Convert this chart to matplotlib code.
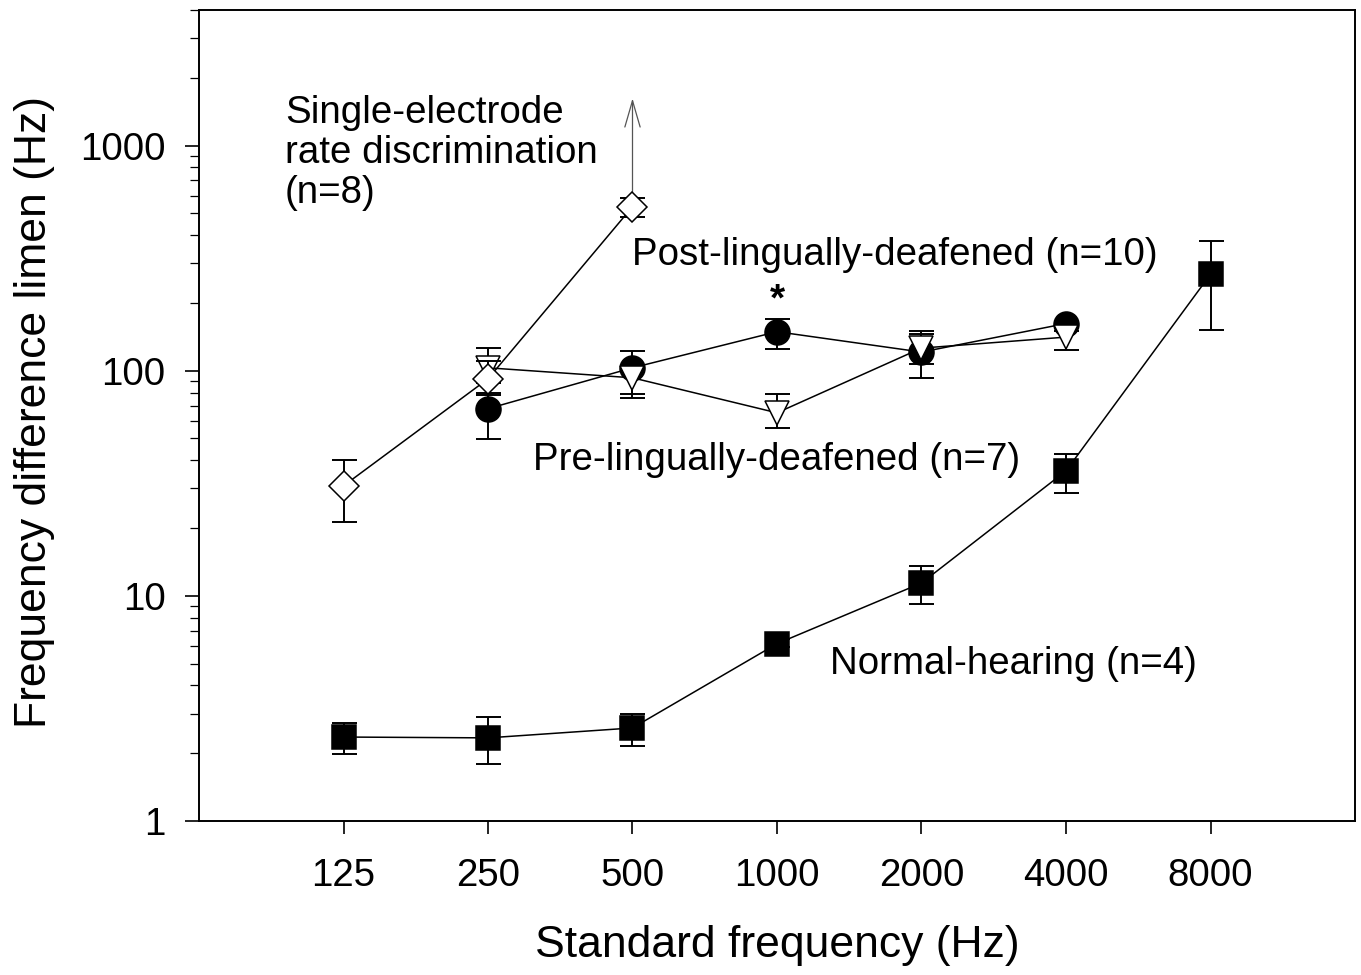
import matplotlib
matplotlib.use("Agg")
import matplotlib.pyplot as plt
import matplotlib.ticker as mticker
import numpy as np

plt.rcParams['font.family'] = ['Liberation Sans', 'DejaVu Sans']

# ---------------- data ----------------
freqs = [125, 250, 500, 1000, 2000, 4000, 8000]
tick_labels = ["125", "250", "500", "1000", "2000", "4000", "8000"]

# Normal-hearing (filled squares)
nh_freq = [125, 250, 500, 1000, 2000, 4000, 8000]
nh_mean = [2.36, 2.34, 2.59, 6.13, 11.4, 35.9, 268]
nh_low = [1.98, 1.79, 2.15, 5.9, 9.2, 28.7, 152]
nh_high = [2.73, 2.90, 2.99, 6.4, 13.6, 42.7, 377]

# Post-lingually-deafened (filled circles)
post_freq = [250, 500, 1000, 2000, 4000]
post_mean = [67.8, 103, 149, 121, 162]
post_low = [49.9, 79, 125, 93, 158]
post_high = [80, 122, 169, 145, 166]

# Pre-lingually-deafened (open down-triangles)
pre_freq = [250, 500, 1000, 2000, 4000]
pre_mean = [103, 93, 65, 126, 141]
pre_low = [88, 76, 55.5, 107, 123]
pre_high = [126, 100, 79, 150, 150]

# Single-electrode rate discrimination (open diamonds)
se_freq = [125, 250, 500]
se_mean = [30.8, 92, 535]
se_low = [21.3, 78, 480]
se_high = [40.2, 110, 587]
se_arrow_top = 1620

star_freq = 1000
star_value = 205

# ---------------- figure ----------------
W, H = 1361, 975
fig = plt.figure(figsize=(W / 100, H / 100), dpi=100)
ax = fig.add_axes([199 / W, (H - 821) / H, 1156 / W, 811 / H])

ax.set_xscale('log', base=2)
ax.set_yscale('log')
ax.set_xlim(62.5, 16000)
ax.set_ylim(1, 4000)

lw_line = 1.1
lw_err = 1.4
mew = 1.1
cap = 9


def series(fx, m, lo, hi, marker, ms, fc, z):
    m = np.array(m)
    yerr = np.vstack([m - np.array(lo), np.array(hi) - m])
    ax.errorbar(fx, m, yerr=yerr, fmt='none', ecolor='black', elinewidth=lw_err,
                capsize=cap, capthick=lw_err, zorder=z)
    ax.plot(fx, m, color='black', lw=lw_line, marker=marker, ms=ms, mfc=fc,
            mec='black', mew=mew, zorder=z + 0.5)


series(nh_freq, nh_mean, nh_low, nh_high, 's', 17, 'black', 3)
series(post_freq, post_mean, post_low, post_high, 'o', 18, 'black', 4)
series(pre_freq, pre_mean, pre_low, pre_high, 'v', 17.5, 'white', 5)
series(se_freq, se_mean, se_low, se_high, 'D', 15.5, 'white', 6)

# upward arrow from the 500 Hz single-electrode point
ax.annotate('', xy=(se_freq[-1], se_arrow_top), xytext=(se_freq[-1], se_mean[-1]),
            arrowprops=dict(arrowstyle='->,head_length=1.9,head_width=0.55',
                            color='#555555', lw=0.9, mutation_scale=10,
                            shrinkA=9, shrinkB=0), zorder=2)

ax.text(star_freq, star_value, '*', ha='center', va='center', fontsize=28,
        fontweight='bold')

fs = 27.7
ax.text(0.0744, 0.824, "Single-electrode\nrate discrimination\n(n=8)",
        transform=ax.transAxes, ha='left', va='center', fontsize=fs,
        linespacing=1.14)
ax.text(0.3746, 0.698, "Post-lingually-deafened (n=10)", transform=ax.transAxes,
        ha='left', va='center', fontsize=fs)
ax.text(0.289, 0.445, "Pre-lingually-deafened (n=7)", transform=ax.transAxes,
        ha='left', va='center', fontsize=fs)
ax.text(0.546, 0.194, "Normal-hearing (n=4)", transform=ax.transAxes,
        ha='left', va='center', fontsize=fs)

# axes styling
for s in ax.spines.values():
    s.set_linewidth(1.4)

ax.xaxis.set_major_locator(mticker.FixedLocator(freqs))
ax.xaxis.set_major_formatter(mticker.FixedFormatter(tick_labels))
ax.xaxis.set_minor_locator(mticker.NullLocator())

ax.yaxis.set_major_locator(mticker.FixedLocator([1, 10, 100, 1000]))
ax.yaxis.set_major_formatter(mticker.FixedFormatter(['1', '10', '100', '1000']))
ax.yaxis.set_minor_locator(mticker.LogLocator(base=10, subs=np.arange(2, 10)))
ax.yaxis.set_minor_formatter(mticker.NullFormatter())

ax.tick_params(axis='x', which='major', direction='out', length=9, width=1.2,
               labelsize=fs, pad=18, top=False)
ax.tick_params(axis='y', which='major', direction='out', length=10, width=1.2,
               labelsize=fs, pad=14, right=False)
ax.tick_params(axis='y', which='minor', direction='out', length=6.5, width=0.9,
               right=False)

ax.set_xlabel("Standard frequency (Hz)", fontsize=32)
ax.xaxis.set_label_coords(0.5, -0.128)
ax.set_ylabel("Frequency difference limen (Hz)", fontsize=32)
ax.yaxis.set_label_coords(-0.1246, 0.504)

fig.savefig("out.png", dpi=100)
